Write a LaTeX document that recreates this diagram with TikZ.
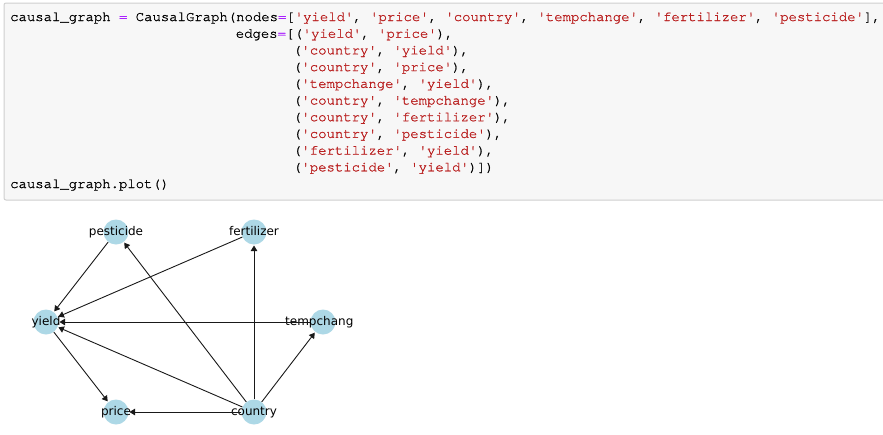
\documentclass[tikz,border=0pt]{standalone}
\usepackage{fontspec}
\setmainfont{DejaVu Sans}
\newfontfamily\codefont{texgyrecursor-regular.otf}[FakeBold=1.2]
\usetikzlibrary{arrows.meta}
\definecolor{strc}{HTML}{BA2121}
\definecolor{opc}{HTML}{AA22FF}
\definecolor{nodec}{HTML}{ADD8E6}
\definecolor{boxfill}{HTML}{F7F7F7}
\definecolor{boxline}{HTML}{CFCFCF}
\newcommand\cstr[1]{\textcolor{strc}{#1}}
\newcommand\cop{\textcolor{opc}{=}}
\tikzset{
  codeline/.style={anchor=base west, inner sep=0pt, font=\codefont\fontsize{13.95}{16.7}\selectfont},
  gnode/.style={circle, fill=nodec, draw=none, minimum size=25pt, inner sep=0pt},
  glabel/.style={inner sep=0pt, font=\fontsize{12}{14}\selectfont, text height=9pt, text depth=2.5pt},
  garrow/.style={draw=black!90, line width=0.9pt, -{Triangle[length=5.5pt,width=6.5pt]}, shorten >=0.8pt}
}
\begin{document}
\begin{tikzpicture}[x=1pt,y=-1pt]
\useasboundingbox (0,0) rectangle (883,434);
\fill[white] (0,0) rectangle (883,434);
% code cell
\draw[boxline, fill=boxfill, rounded corners=2pt, line width=1pt] (4,3) rectangle (895,200);
\node[codeline] (c1) at (10,21) {causal\_graph \cop{} CausalGraph(nodes\cop[\cstr{'yield'}, \cstr{'price'}, \cstr{'country'}, \cstr{'tempchange'}, \cstr{'fertilizer'}, \cstr{'pesticide'}],};
\node[codeline] (c2) at (235.6,37.7) {edges\cop[(\cstr{'yield'}, \cstr{'price'}),};
\node[codeline] (c3) at (292.9,54.4) {(\cstr{'country'}, \cstr{'yield'}),};
\node[codeline] (c4) at (292.9,71.1) {(\cstr{'country'}, \cstr{'price'}),};
\node[codeline] (c5) at (292.9,87.8) {(\cstr{'tempchange'}, \cstr{'yield'}),};
\node[codeline] (c6) at (292.9,104.5) {(\cstr{'country'}, \cstr{'tempchange'}),};
\node[codeline] (c7) at (292.9,121.2) {(\cstr{'country'}, \cstr{'fertilizer'}),};
\node[codeline] (c8) at (292.9,137.9) {(\cstr{'country'}, \cstr{'pesticide'}),};
\node[codeline] (c9) at (292.9,154.6) {(\cstr{'fertilizer'}, \cstr{'yield'}),};
\node[codeline] (c10) at (292.9,171.3) {(\cstr{'pesticide'}, \cstr{'yield'})])};
\node[codeline] (c11) at (10,188) {causal\_graph.plot()};
% graph nodes
\node[gnode] (pesticide) at (116,232) {};
\node[gnode] (fertilizer) at (254,232) {};
\node[gnode] (yield) at (46,322) {};
\node[gnode] (tempchange) at (323,322) {};
\node[gnode] (price) at (116,412) {};
\node[gnode] (country) at (254,412) {};
% labels
\node[glabel] (pesticidetxt) at (pesticide) {pesticide};
\node[glabel] (fertilizertxt) at (fertilizer) {fertilizer};
\node[glabel] (yieldtxt) at (yield) {yield};
\node[glabel, anchor=west] (tempchangetxt) at (285,322) {tempchang};
\node[glabel] (pricetxt) at (price) {price};
\node[glabel] (countrytxt) at (country) {country};
% edges
\draw[garrow] (yield) -- (price);
\draw[garrow] (country) -- (yield);
\draw[garrow] (country) -- (price);
\draw[garrow] (tempchange) -- (yield);
\draw[garrow] (country) -- (tempchange);
\draw[garrow] (country) -- (fertilizer);
\draw[garrow] (country) -- (pesticide);
\draw[garrow] (fertilizer) -- (yield);
\draw[garrow] (pesticide) -- (yield);
\end{tikzpicture}
\end{document}
